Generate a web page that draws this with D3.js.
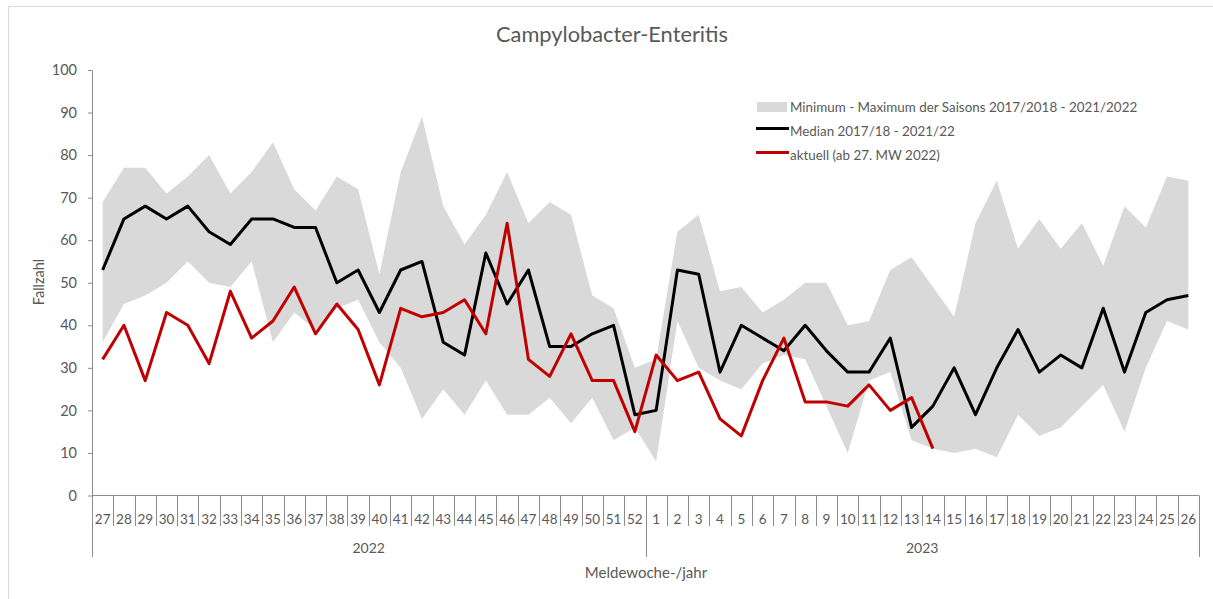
<!DOCTYPE html>
<html>
<head>
<meta charset="utf-8">
<script src="https://cdn.jsdelivr.net/npm/d3@7"></script>
<style>
  body { margin: 0; background: #fff; }
  text { font-family: "Century Gothic", Lato, "Open Sans", sans-serif; fill: #595959; }
</style>
</head>
<body>
<script>
// Width and height
var w = 1213;
var h = 599;

// Meldewochen (27/2022 .. 26/2023)
var weeks = [27,28,29,30,31,32,33,34,35,36,37,38,39,40,41,42,43,44,45,46,47,48,49,50,51,52,
             1,2,3,4,5,6,7,8,9,10,11,12,13,14,15,16,17,18,19,20,21,22,23,24,25,26];
var years = ["2022", "2023"];
var yTicks = [0,10,20,30,40,50,60,70,80,90,100];

var maxValues = [69,77,77,71,75,80,71,76,83,72,67,75,72,52,76,89,68,59,66,76,64,69,66,47,44,30,
                 32,62,66,48,49,43,46,50,50,40,41,53,56,49,42,64,74,58,65,58,64,54,68,63,75,74];
var minValues = [36,45,47,50,55,50,49,55,36,43,39,44,46,36,30,18,25,19,27,19,19,23,17,23,13,16,
                 8,41,30,27,25,31,33,32,21,10,27,29,13,11,10,11,9,19,14,16,21,26,15,30,41,39];
var median = [53,65,68,65,68,62,59,65,65,63,63,50,53,43,53,55,36,33,57,45,53,35,35,38,40,19,
              20,53,52,29,40,37,34,40,34,29,29,37,16,21,30,19,30,39,29,33,30,44,29,43,46,47];
var current = [32,40,27,43,40,31,48,37,41,49,38,45,39,26,44,42,43,46,38,64,32,28,38,27,27,15,
               33,27,29,18,14,27,37,22,22,21,26,20,23,11];

var axisColor = "#8c8c8c";

var xScale = d3.scaleBand()
    .domain(d3.range(weeks.length))
    .range([92, 1199]);

var yScale = d3.scaleLinear()
    .domain([0, 100])
    .range([495.5, 70]);

var cx = function(i) { return xScale(i) + xScale.bandwidth() / 2; };

//Create SVG element
var svg = d3.select("body")
    .append("svg")
    .attr("width", w)
    .attr("height", h);

// outer frame
svg.append("rect")
    .attr("x", 8.5).attr("y", 6.5)
    .attr("width", 1230).attr("height", 620)
    .attr("fill", "none")
    .attr("stroke", "#d9d9d9");

// title
svg.append("text")
    .attr("x", 612).attr("y", 42)
    .attr("text-anchor", "middle")
    .attr("font-size", "21.8px")
    .text("Campylobacter-Enteritis");

// min-max band
var area = d3.area()
    .x(function(d, i) { return cx(i); })
    .y0(function(d, i) { return yScale(minValues[i]); })
    .y1(function(d, i) { return yScale(maxValues[i]); });

svg.append("path")
    .datum(maxValues)
    .attr("d", area)
    .attr("fill", "#d9d9d9");

// lines
var line = d3.line()
    .x(function(d, i) { return cx(i); })
    .y(function(d) { return yScale(d); });

svg.append("path")
    .datum(median)
    .attr("d", line)
    .attr("fill", "none")
    .attr("stroke", "#000")
    .attr("stroke-width", 3)
    .attr("stroke-linejoin", "round");

svg.append("path")
    .datum(current)
    .attr("d", line)
    .attr("fill", "none")
    .attr("stroke", "#c00000")
    .attr("stroke-width", 3)
    .attr("stroke-linejoin", "round");

// y axis
var yAxis = svg.append("g")
    .attr("transform", "translate(92,0)")
    .call(d3.axisLeft(yScale).tickValues(yTicks).tickSize(4).tickSizeOuter(0).tickPadding(11));
yAxis.selectAll("path, line").attr("stroke", axisColor);
yAxis.selectAll("text")
    .attr("font-size", "14.5px")
    .attr("font-family", "\"Century Gothic\", Lato, sans-serif")
    .attr("fill", "#595959");

svg.append("text")
    .attr("transform", "translate(44,282) rotate(-90)")
    .attr("text-anchor", "middle")
    .attr("font-size", "14.5px")
    .text("Fallzahl");

// x axis (two-level category axis)
var xg = svg.append("g");
xg.append("line")
    .attr("x1", 92).attr("x2", 1199)
    .attr("y1", 495.5).attr("y2", 495.5)
    .attr("stroke", axisColor);

var edges = d3.range(weeks.length + 1);
xg.selectAll(".sep")
    .data(edges)
    .enter()
    .append("line")
    .attr("class", "sep")
    .attr("x1", function(d) { return Math.round(92 + d * xScale.step()) + 0.5; })
    .attr("x2", function(d) { return Math.round(92 + d * xScale.step()) + 0.5; })
    .attr("y1", 495.5)
    .attr("y2", function(d) { return (d === 0 || d === 26 || d === weeks.length) ? 557 : 526; })
    .attr("stroke", axisColor);

xg.selectAll(".wk")
    .data(weeks)
    .enter()
    .append("text")
    .attr("class", "wk")
    .attr("x", function(d, i) { return cx(i); })
    .attr("y", 524)
    .attr("text-anchor", "middle")
    .attr("font-size", "13.5px")
    .text(function(d) { return d; });

xg.selectAll(".yr")
    .data(years)
    .enter()
    .append("text")
    .attr("class", "yr")
    .attr("x", function(d, i) {
        var a = xScale(i * 26), b = xScale(i * 26 + 25) + xScale.bandwidth();
        return (a + b) / 2;
    })
    .attr("y", 553)
    .attr("text-anchor", "middle")
    .attr("font-size", "14px")
    .text(function(d) { return d; });

svg.append("text")
    .attr("x", 646).attr("y", 578)
    .attr("text-anchor", "middle")
    .attr("font-size", "15px")
    .text("Meldewoche-/jahr");

// legend
var legend = svg.append("g").attr("transform", "translate(756,0)");
legend.append("rect")
    .attr("x", 1).attr("y", 102)
    .attr("width", 30).attr("height", 10)
    .attr("fill", "#d9d9d9");
legend.append("line")
    .attr("x1", 0).attr("x2", 33)
    .attr("y1", 128.5).attr("y2", 128.5)
    .attr("stroke", "#000").attr("stroke-width", 3);
legend.append("line")
    .attr("x1", 0).attr("x2", 33)
    .attr("y1", 152.5).attr("y2", 152.5)
    .attr("stroke", "#c00000").attr("stroke-width", 3);

var legendLabels = ["Minimum - Maximum der Saisons 2017/2018 - 2021/2022",
                    "Median 2017/18 - 2021/22",
                    "aktuell (ab 27. MW 2022)"];
legend.selectAll(".lg")
    .data(legendLabels)
    .enter()
    .append("text")
    .attr("class", "lg")
    .attr("x", 34)
    .attr("y", function(d, i) { return 112 + i * 24; })
    .attr("font-size", "13.4px")
    .text(function(d) { return d; });
</script>
</body>
</html>
